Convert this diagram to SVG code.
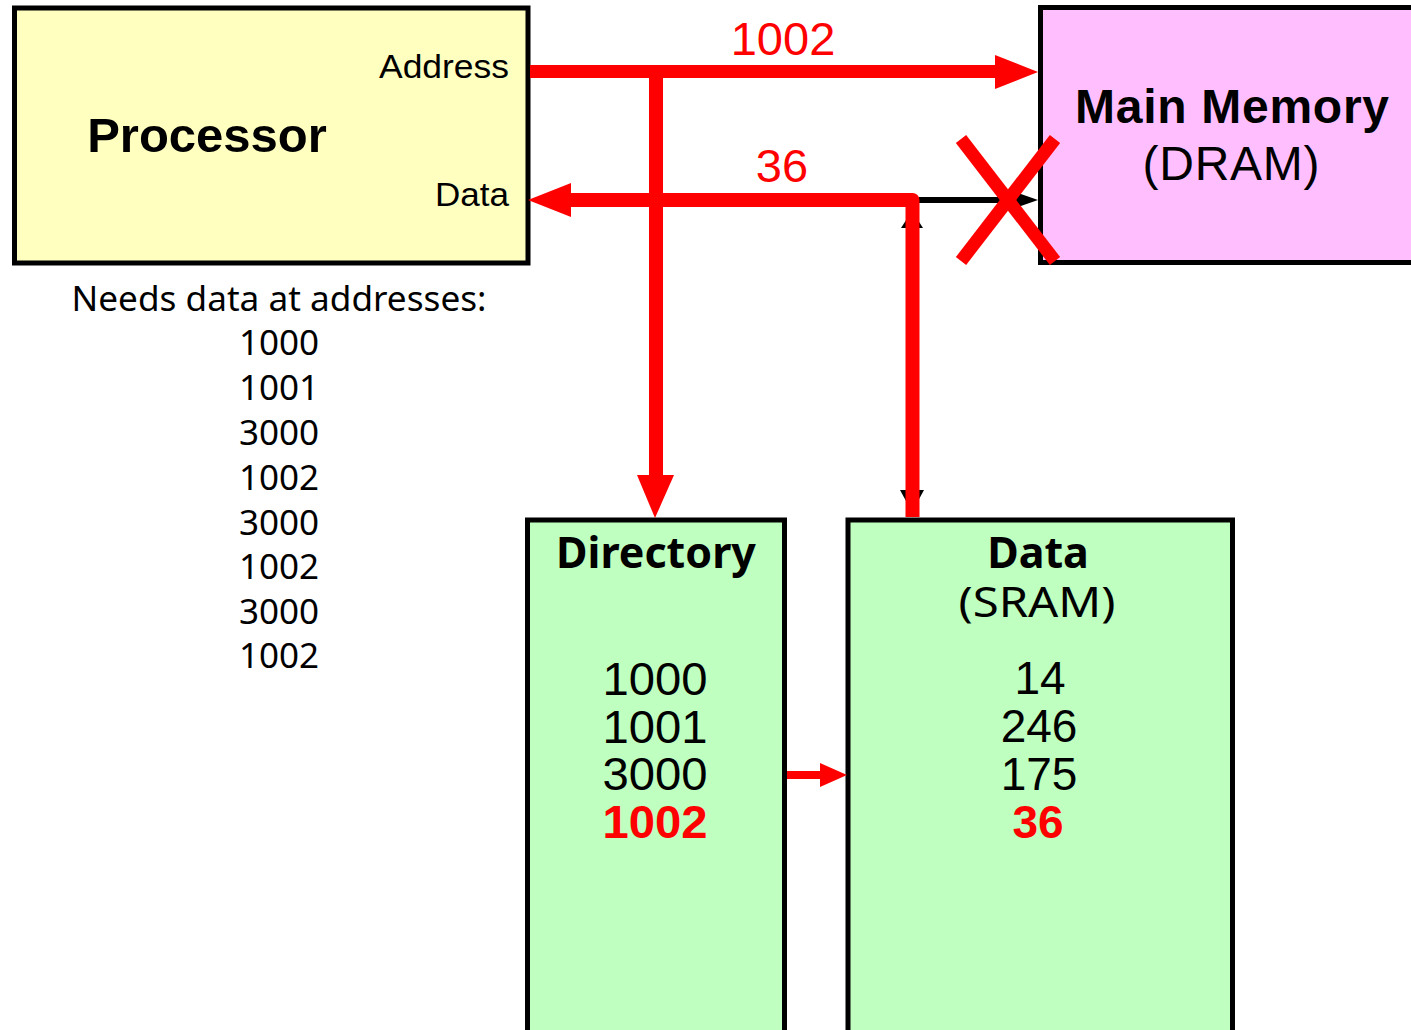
<svg xmlns="http://www.w3.org/2000/svg" width="1411" height="1030" viewBox="0 0 1411 1030">
<style>
.box{stroke:#000;stroke-width:5}
.helv{font-family:"Liberation Sans",Arial,sans-serif}
.noto{font-family:"Noto Sans","Open Sans",sans-serif}
.red{fill:#ff0000}
.rl{stroke:#ff0000;fill:none}
.mid{text-anchor:middle}
</style>
<rect width="1411" height="1030" fill="#fff"/>
<g id="processor">
<rect class="box" x="14.5" y="8" width="513.5" height="255" fill="#ffffc0"/>
<text class="helv" x="207" y="152" font-size="49" font-weight="bold" text-anchor="middle">Processor</text>
<text class="helv" x="509" y="78" font-size="33" text-anchor="end" textLength="130" lengthAdjust="spacingAndGlyphs">Address</text>
<text class="helv" x="509" y="206" font-size="33" text-anchor="end" textLength="74" lengthAdjust="spacingAndGlyphs">Data</text>
</g>
<g id="main-memory">
<rect class="box" x="1040.5" y="7.5" width="390" height="255" fill="#ffbfff"/>
<text class="helv mid" x="1232" y="123" font-size="48" font-weight="bold" textLength="314" lengthAdjust="spacing">Main Memory</text>
<text class="helv mid" x="1231" y="180" font-size="48" textLength="177" lengthAdjust="spacing">(DRAM)</text>
</g>
<g id="needs">
<text class="noto mid" x="279" y="311" font-size="35" textLength="415" lengthAdjust="spacingAndGlyphs">Needs data at addresses:</text>
<g class="noto mid" font-size="35">
<text x="279" y="355">1000</text>
<text x="279" y="400">1001</text>
<text x="279" y="445">3000</text>
<text x="279" y="490">1002</text>
<text x="279" y="535">3000</text>
<text x="279" y="579">1002</text>
<text x="279" y="624">3000</text>
<text x="279" y="668">1002</text>
</g>
</g>
<g id="directory">
<rect class="box" x="527.5" y="520" width="257" height="520" fill="#bfffbf"/>
<text class="noto mid" x="656" y="568" font-size="43" font-weight="bold">Directory</text>
<g class="helv mid" font-size="46">
<text x="655" y="695" textLength="105" lengthAdjust="spacingAndGlyphs">1000</text>
<text x="655" y="743" textLength="105" lengthAdjust="spacingAndGlyphs">1001</text>
<text x="655" y="790" textLength="105" lengthAdjust="spacingAndGlyphs">3000</text>
<text x="655" y="838" class="red" font-weight="bold" textLength="105" lengthAdjust="spacingAndGlyphs">1002</text>
</g>
</g>
<g id="data-sram">
<rect class="box" x="848" y="520" width="384.5" height="520" fill="#bfffbf"/>
<text class="noto mid" x="1038" y="568" font-size="43" font-weight="bold">Data</text>
<text class="noto mid" x="1037" y="617" font-size="42" textLength="157" lengthAdjust="spacingAndGlyphs">(SRAM)</text>
<g class="helv mid" font-size="46">
<text x="1040" y="694">14</text>
<text x="1039" y="742">246</text>
<text x="1039" y="790">175</text>
<text x="1038" y="838" class="red" font-weight="bold">36</text>
</g>
</g>
<g id="connectors">
<line x1="919" y1="200" x2="1022" y2="200" stroke="#000" stroke-width="6"/>
<polygon points="1018,193 1038,200 1018,207" fill="#000"/>
<polygon points="901,228 912,211 923,228" fill="#000"/>
<polygon points="900,490 924,490 912,512" fill="#000"/>
<line class="rl" x1="530" y1="71.5" x2="998" y2="71.5" stroke-width="13"/>
<polygon class="red" points="995,55 1038,72 995,89"/>
<text class="helv mid red" x="783" y="55" font-size="47">1002</text>
<line class="rl" x1="656" y1="78" x2="656" y2="478" stroke-width="14"/>
<polygon class="red" points="637,475 674,475 655,518"/>
<polyline class="rl" points="568,200 912.5,200 912.5,517" stroke-width="14" stroke-linejoin="round"/>
<polygon class="red" points="571,183 528,200 571,217"/>
<text class="helv mid red" x="782" y="182" font-size="47">36</text>
<line class="rl" x1="787" y1="775" x2="822" y2="775" stroke-width="8"/>
<polygon class="red" points="820,763 847,775 820,787"/>
</g>
<g id="cross">
<line class="rl" x1="961" y1="139" x2="1055" y2="261" stroke-width="13"/>
<line class="rl" x1="1055" y1="139" x2="961" y2="261" stroke-width="13"/>
</g>
</svg>
